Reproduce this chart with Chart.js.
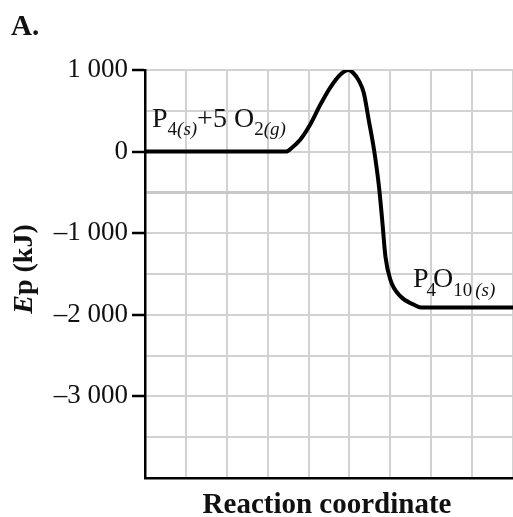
<!DOCTYPE html>
<html>
<head>
<meta charset="utf-8">
<script src="https://cdn.jsdelivr.net/npm/chart.js@4/dist/chart.umd.min.js"></script>
<style>
    html, body { margin: 0; padding: 0; background: #fff; }
    #wrap { width: 513px; height: 517px; }
</style>
</head>
<body>
<div id="wrap"><canvas id="energyChart" width="513" height="517"></canvas></div>
<script>
// values
const reactionCoord = [0, 3.45, 3.6, 3.8, 4.04, 4.29, 4.53, 4.78, 4.98, 5.1, 5.23, 5.35, 5.47, 5.6, 5.72, 5.8, 5.88, 6.0, 6.25, 6.58, 6.75, 9];
const energyKJ = [0, 0, 50, 147, 331, 577, 785, 945, 1000, 960, 870, 720, 393, 25, -420, -834, -1285, -1570, -1775, -1877, -1910, -1910];
const yTicksShown = [1000, 0, -1000, -2000, -3000];

const SERIF = '"Liberation Serif", "Times New Roman", serif';
const INK = '#111';

function formatKJ(v) {
    const abs = Math.abs(v);
    let s = abs >= 1000 ? Math.floor(abs / 1000) + ' ' + String(abs % 1000).padStart(3, '0') : String(abs);
    return v < 0 ? '\u2013' + s : s;
}

// draws a list of text runs one after another (for subscripts)
function drawRuns(ctx, x, y, runs) {
    runs.forEach(run => {
        ctx.font = run.font;
        ctx.fillText(run.text, x, y + (run.dy || 0));
        x += ctx.measureText(run.text).width + (run.gap || 0);
    });
}

const labelsPlugin = {
    id: 'labels',
    afterDraw(chart) {
        const ctx = chart.ctx;
        ctx.save();
        ctx.fillStyle = INK;
        ctx.textBaseline = 'alphabetic';
        ctx.textAlign = 'left';

        ctx.font = 'bold 29px ' + SERIF;
        ctx.fillText('A.', 11, 35);

        const main = '28px ' + SERIF;
        const sub = '19px ' + SERIF;
        const subIt = 'italic 19px ' + SERIF;
        drawRuns(ctx, 152, 127, [
            { text: 'P', font: main },
            { text: '4', font: sub, dy: 8 },
            { text: '(s)', font: subIt, dy: 8 },
            { text: '+5 O', font: main },
            { text: '2', font: sub, dy: 8 },
            { text: '(g)', font: subIt, dy: 8 }
        ]);
        drawRuns(ctx, 413, 287, [
            { text: 'P', font: main, gap: -2 },
            { text: '4', font: sub, dy: 9, gap: -3 },
            { text: 'O', font: main },
            { text: '10', font: sub, dy: 9, gap: 3 },
            { text: '(s)', font: subIt, dy: 9 }
        ]);

        // axis titles
        ctx.font = 'bold 29px ' + SERIF;
        ctx.textAlign = 'center';
        ctx.fillText('Reaction coordinate', 327, 513);

        ctx.translate(32, 269);
        ctx.rotate(-Math.PI / 2);
        const parts = [
            { text: 'E', font: 'bold italic 28px ' + SERIF },
            { text: 'p (kJ)', font: 'bold 28px ' + SERIF }
        ];
        let total = 0;
        parts.forEach(p => { ctx.font = p.font; total += ctx.measureText(p.text).width; });
        ctx.textAlign = 'left';
        drawRuns(ctx, -total / 2, 0, parts);
        ctx.restore();
    }
};

const points = reactionCoord.map((x, i) => ({ x: x, y: energyKJ[i] }));

new Chart(document.getElementById('energyChart'), {
    type: 'line',
    data: {
        datasets: [{
            data: points,
            borderColor: '#000',
            borderWidth: 4,
            pointRadius: 0,
            cubicInterpolationMode: 'monotone',
            fill: false
        }]
    },
    options: {
        responsive: false,
        animation: false,
        layout: { padding: { top: 70, left: 0, right: 0, bottom: 0 } },
        plugins: { legend: { display: false }, tooltip: { enabled: false } },
        scales: {
            x: {
                type: 'linear',
                min: 0,
                max: 9,
                ticks: { display: false, stepSize: 1 },
                grid: {
                    drawTicks: false,
                    color: ctx => ctx.tick && ctx.tick.value === 0 ? 'rgba(0,0,0,0)' : '#d2d2d2',
                    lineWidth: 2
                },
                border: { display: true, color: '#000', width: 2.5 },
                afterFit: scale => { scale.height = 39; }
            },
            y: {
                min: -4000,
                max: 1000,
                ticks: {
                    stepSize: 500,
                    padding: 4,
                    color: INK,
                    font: { family: SERIF, size: 27 },
                    callback: v => yTicksShown.includes(v) ? formatKJ(v) : ''
                },
                grid: {
                    tickLength: 13,
                    tickColor: ctx => yTicksShown.includes(ctx.tick.value) ? '#000' : 'rgba(0,0,0,0)',
                    tickWidth: 2.5,
                    color: ctx => ctx.tick.value === -4000 ? 'rgba(0,0,0,0)' : (ctx.tick.value === -500 ? '#c8c8c8' : '#d2d2d2'),
                    lineWidth: ctx => ctx.tick.value === -500 ? 3 : 2
                },
                border: { display: true, color: '#000', width: 2.5 },
                afterFit: scale => { scale.width = 145; }
            }
        }
    },
    plugins: [labelsPlugin]
});
</script>
</body>
</html>
